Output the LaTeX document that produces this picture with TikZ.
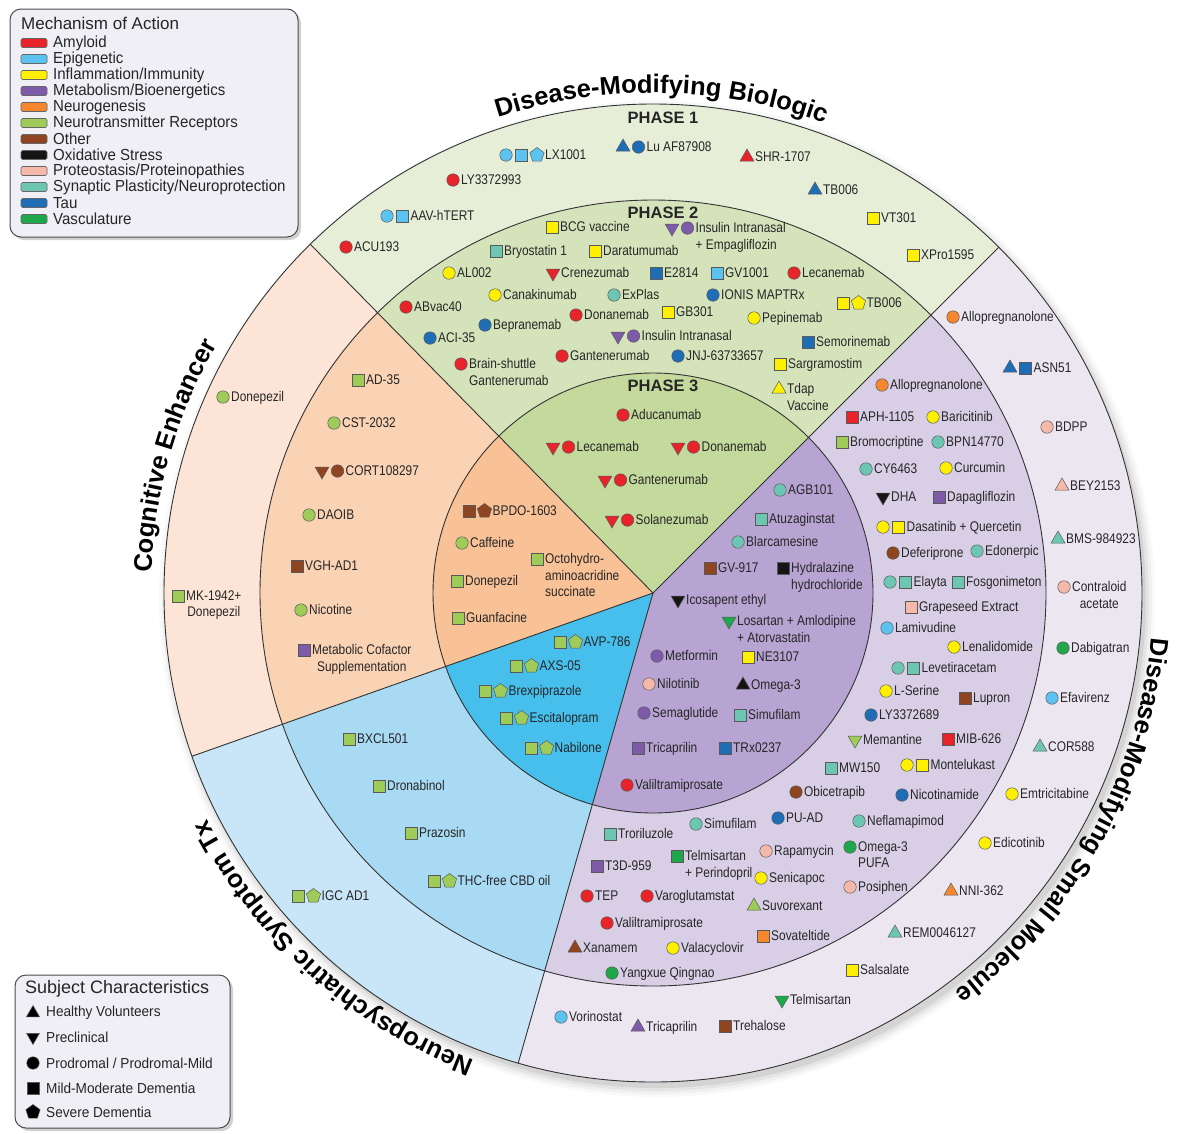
\documentclass[tikz,border=0pt]{standalone}
\usepackage{fontspec}
\setmainfont{Liberation Sans}
\newfontfamily\labfam[FakeStretch=0.85]{Liberation Sans}
\newfontfamily\legfam[FakeStretch=0.94]{Liberation Sans}
\usetikzlibrary{shapes.geometric,decorations.text}
% mechanism colours
\definecolor{cAmy}{HTML}{E8232A}
\definecolor{cEpi}{HTML}{5CC3F0}
\definecolor{cInf}{HTML}{FFF000}
\definecolor{cMet}{HTML}{7E5BA8}
\definecolor{cNeu}{HTML}{F5872F}
\definecolor{cNtr}{HTML}{9FCB58}
\definecolor{cOth}{HTML}{8E4520}
\definecolor{cOxi}{HTML}{151515}
\definecolor{cPro}{HTML}{F5B9AA}
\definecolor{cSyn}{HTML}{6DC6B2}
\definecolor{cTau}{HTML}{1F6DB5}
\definecolor{cVas}{HTML}{1EA84B}
% region colours
\definecolor{bioA}{HTML}{E7EED8}
\definecolor{bioB}{HTML}{D5E3BB}
\definecolor{bioC}{HTML}{C4D99C}
\definecolor{cogA}{HTML}{FCE5D6}
\definecolor{cogB}{HTML}{FAD2B4}
\definecolor{cogC}{HTML}{F8C196}
\definecolor{neuA}{HTML}{C8E6F7}
\definecolor{neuB}{HTML}{A9DAF4}
\definecolor{neuC}{HTML}{46BFEC}
\definecolor{smA}{HTML}{ECE6F1}
\definecolor{smB}{HTML}{D8CEE5}
\definecolor{smC}{HTML}{B7A4D2}
\definecolor{lineC}{HTML}{333333}
\definecolor{legbg}{HTML}{EFEFF5}

\newcommand\labfont{\labfam\fontsize{14}{16.5}\selectfont}
\newcommand\secfont{\bfseries\fontsize{25.5}{25.5}\selectfont}
\def\cx{653}
\def\cy{-593}

\newcounter{drugno}
\newcommand\drug[5][left]{%
  \stepcounter{drugno}%
  \edef\dname{d\arabic{drugno}}%
  \foreach \mks/\mkc [count=\mki from 0] in {#4}{%
    \node[mk\mks, fill=\mkc] (\dname m\mki) at ({#2+\mki*15.5},{-#3}) {};%
    \xdef\lastidx{\mki}%
  }%
  \node[lab, align=#1, anchor=north west] (\dname) at ({#2+\lastidx*15.5+8},{-#3+5.5}) {#5};%
}
\newcommand\sectorfill[4]{\fill[#4] (\cx,\cy) -- ++(#1:#3) arc[start angle=#1, end angle=#2, radius=#3] -- cycle;}
\newcommand\legitem[4]{%
  \node[swatch, fill=#2] (sw#4) at (34,-#1) {};
  \node[legtxt, anchor=west] (lt#4) at (53,-#1) {#3};}

\begin{document}
\begin{tikzpicture}[x=1pt,y=1pt,
  mkbase/.style={draw=black!65, line width=0.5pt, inner sep=0pt},
  mkcirc/.style={mkbase, circle, minimum size=12.5pt},
  mksq/.style={mkbase, rectangle, minimum size=12pt},
  mktup/.style={mkbase, regular polygon, regular polygon sides=3, minimum size=16pt},
  mktdn/.style={mkbase, regular polygon, regular polygon sides=3, shape border rotate=180, minimum size=16pt},
  mkpent/.style={mkbase, regular polygon, regular polygon sides=5, minimum size=15pt},
  lab/.style={font=\labfont, inner sep=0pt, text=black!85},
  phase/.style={font=\bfseries\fontsize{16.5}{16.5}\selectfont, inner sep=0pt, text=black!85},
  swatch/.style={draw=black!60, line width=0.6pt, rounded corners=1.5pt, minimum width=26pt, minimum height=9pt, inner sep=0pt},
  legtxt/.style={font=\legfam\fontsize{16}{16}\selectfont, inner sep=0pt, text=black!85},
  legbox/.style={fill=legbg, draw=black!70, line width=1pt, rounded corners=11pt},
  ringline/.style={lineC, line width=0.9pt}
]
\useasboundingbox (0,0) rectangle (1188,-1133);
\coordinate (C) at (\cx,\cy);

% ---- shadow of the disc
\foreach \k/\o in {9/0.025,6/0.035,3/0.05,0/0.07}
  \fill[black, opacity=\o] (\cx+4,\cy-6) circle ({489+\k});

% ---- sector fills
\sectorfill{45}{134.5}{489}{bioA}
\sectorfill{134.5}{199.5}{489}{cogA}
\sectorfill{199.5}{254}{489}{neuA}
\sectorfill{254}{405}{489}{smA}
\sectorfill{45}{134.5}{393}{bioB}
\sectorfill{134.5}{199.5}{393}{cogB}
\sectorfill{199.5}{254}{393}{neuB}
\sectorfill{254}{405}{393}{smB}
\sectorfill{45}{134.5}{220}{bioC}
\sectorfill{134.5}{199.5}{220}{cogC}
\sectorfill{199.5}{254}{220}{neuC}
\sectorfill{254}{405}{220}{smC}

% ---- ring outlines and sector boundaries
\draw[ringline] (C) circle (489);
\draw[ringline] (C) circle (393);
\draw[ringline] (C) circle (220);
\foreach \a in {45,134.5,199.5,254} \draw[ringline] (C) -- ++(\a:489);

% ---- sector titles
\path[decorate, decoration={text along path, text align=center,
  text={|\secfont|Disease-Modifying Biologic}}]
  [shift={(\cx,\cy)}] (120:500) arc[start angle=120, end angle=58, radius=500];
\path[decorate, decoration={text along path, text align=center,
  text={|\secfont|Cognitive Enhancer}}]
  [shift={(\cx,\cy)}] (195:502) arc[start angle=195, end angle=133, radius=502];
\path[decorate, decoration={text along path, text align=center,
  text={|\secfont|Neuropsychiatric Symptom Tx}}]
  [shift={(\cx,\cy)}] (259:500) arc[start angle=259, end angle=197, radius=500];
\path[decorate, decoration={text along path, text align=center,
  text={|\secfont|Disease-Modifying Small Molecule}}]
  [shift={(\cx,\cy)}] (3:500) arc[start angle=3, end angle=-61, radius=500];

% ---- phase headings
\node[phase] (ph1) at (663,-118) {PHASE 1};
\node[phase] (ph2) at (663,-213) {PHASE 2};
\node[phase] (ph3) at (663,-386) {PHASE 3};

% ---- Biologic, phase 1
\drug{506}{155}{circ/cEpi,sq/cEpi,pent/cEpi}{LX1001}
\drug{623}{147}{tup/cTau,circ/cTau}{Lu AF87908}
\drug{747}{157}{tup/cAmy}{SHR-1707}
\drug{453}{180}{circ/cAmy}{LY3372993}
\drug{815}{190}{tup/cTau}{TB006}
\drug{387}{216}{circ/cEpi,sq/cEpi}{AAV-hTERT}
\drug{873}{218}{sq/cInf}{VT301}
\drug{346}{247}{circ/cAmy}{ACU193}
\drug{913}{255}{sq/cInf}{XPro1595}
% ---- Biologic, phase 2
\drug{552}{227}{sq/cInf}{BCG vaccine}
\drug{672}{228}{tdn/cMet,circ/cMet}{Insulin Intranasal\\+ Empagliflozin}
\drug{496}{251}{sq/cSyn}{Bryostatin 1}
\drug{595}{251}{sq/cInf}{Daratumumab}
\drug{449}{273}{circ/cInf}{AL002}
\drug{553}{273}{tdn/cAmy}{Crenezumab}
\drug{656}{273}{sq/cTau}{E2814}
\drug{717}{273}{sq/cEpi}{GV1001}
\drug{794}{273}{circ/cAmy}{Lecanemab}
\drug{495}{295}{circ/cInf}{Canakinumab}
\drug{614}{295}{circ/cSyn}{ExPlas}
\drug{713}{295}{circ/cTau}{IONIS MAPTRx}
\drug{843}{303}{sq/cInf,pent/cInf}{TB006}
\drug{406}{307}{circ/cAmy}{ABvac40}
\drug{576}{315}{circ/cAmy}{Donanemab}
\drug{668}{312}{sq/cInf}{GB301}
\drug{754}{318}{circ/cInf}{Pepinemab}
\drug{485}{325}{circ/cTau}{Bepranemab}
\drug{430}{338}{circ/cTau}{ACI-35}
\drug{618}{336}{tdn/cMet,circ/cMet}{Insulin Intranasal}
\drug{808}{342}{sq/cTau}{Semorinemab}
\drug{461}{364}{circ/cAmy}{Brain-shuttle\\Gantenerumab}
\drug{562}{356}{circ/cAmy}{Gantenerumab}
\drug{678}{356}{circ/cTau}{JNJ-63733657}
\drug{780}{364}{sq/cInf}{Sargramostim}
\drug{779}{389}{tup/cInf}{Tdap\\Vaccine}
% ---- Biologic, phase 3
\drug{623}{415}{circ/cAmy}{Aducanumab}
\drug{553}{447}{tdn/cAmy,circ/cAmy}{Lecanemab}
\drug{678}{447}{tdn/cAmy,circ/cAmy}{Donanemab}
\drug{605}{480}{tdn/cAmy,circ/cAmy}{Gantenerumab}
\drug{612}{520}{tdn/cAmy,circ/cAmy}{Solanezumab}
% ---- Cognitive enhancer
\drug{469}{511}{sq/cOth,pent/cOth}{BPDO-1603}
\drug{462}{543}{circ/cNtr}{Caffeine}
\drug{537}{559}{sq/cNtr}{Octohydro-\\aminoacridine\\succinate}
\drug{457}{581}{sq/cNtr}{Donepezil}
\drug{458}{618}{sq/cNtr}{Guanfacine}
\drug{358}{380}{sq/cNtr}{AD-35}
\drug{334}{423}{circ/cNtr}{CST-2032}
\drug{322}{471}{tdn/cOth,circ/cOth}{CORT108297}
\drug{309}{515}{circ/cNtr}{DAOIB}
\drug{297}{566}{sq/cOth}{VGH-AD1}
\drug{301}{610}{circ/cNtr}{Nicotine}
\drug[center]{304}{650}{sq/cMet}{Metabolic Cofactor\\Supplementation}
\drug{223}{397}{circ/cNtr}{Donepezil}
\drug[center]{178}{596}{sq/cNtr}{MK-1942+\\Donepezil}
% ---- Neuropsychiatric symptom
\drug{560}{642}{sq/cNtr,pent/cNtr}{AVP-786}
\drug{516}{666}{sq/cNtr,pent/cNtr}{AXS-05}
\drug{485}{691}{sq/cNtr,pent/cNtr}{Brexpiprazole}
\drug{506}{718}{sq/cNtr,pent/cNtr}{Escitalopram}
\drug{531}{748}{sq/cNtr,pent/cNtr}{Nabilone}
\drug{349}{739}{sq/cNtr}{BXCL501}
\drug{379}{786}{sq/cNtr}{Dronabinol}
\drug{411}{833}{sq/cNtr}{Prazosin}
\drug{434}{881}{sq/cNtr,pent/cNtr}{THC-free CBD oil}
\drug{298}{896}{sq/cNtr,pent/cNtr}{IGC AD1}
% ---- Small molecule, phase 3
\drug{780}{490}{circ/cSyn}{AGB101}
\drug{761}{519}{sq/cSyn}{Atuzaginstat}
\drug{738}{542}{circ/cSyn}{Blarcamesine}
\drug{710}{568}{sq/cOth}{GV-917}
\drug{783}{568}{sq/cOxi}{Hydralazine\\hydrochloride}
\drug{678}{600}{tdn/cOxi}{Icosapent ethyl}
\drug{729}{621}{tdn/cVas}{Losartan + Amlodipine\\+ Atorvastatin}
\drug{657}{656}{circ/cMet}{Metformin}
\drug{748}{657}{sq/cInf}{NE3107}
\drug{649}{684}{circ/cPro}{Nilotinib}
\drug{743}{685}{tup/cOxi}{Omega-3}
\drug{644}{713}{circ/cMet}{Semaglutide}
\drug{740}{715}{sq/cSyn}{Simufilam}
\drug{638}{748}{sq/cMet}{Tricaprilin}
\drug{725}{748}{sq/cTau}{TRx0237}
\drug{627}{785}{circ/cAmy}{Valiltramiprosate}
% ---- Small molecule, phase 2
\drug{882}{385}{circ/cNeu}{Allopregnanolone}
\drug{852}{417}{sq/cAmy}{APH-1105}
\drug{933}{417}{circ/cInf}{Baricitinib}
\drug{842}{442}{sq/cNtr}{Bromocriptine}
\drug{938}{442}{circ/cSyn}{BPN14770}
\drug{866}{469}{circ/cSyn}{CY6463}
\drug{946}{468}{circ/cInf}{Curcumin}
\drug{883}{497}{tdn/cOxi}{DHA}
\drug{939}{497}{sq/cMet}{Dapagliflozin}
\drug{883}{527}{circ/cInf,sq/cInf}{Dasatinib + Quercetin}
\drug{893}{553}{circ/cOth}{Deferiprone}
\drug{977}{551}{circ/cSyn}{Edonerpic}
\drug{890}{582}{circ/cSyn,sq/cSyn}{Elayta}
\drug{958}{582}{sq/cSyn}{Fosgonimeton}
\drug{911}{607}{sq/cPro}{Grapeseed Extract}
\drug{887}{628}{circ/cEpi}{Lamivudine}
\drug{954}{647}{circ/cInf}{Lenalidomide}
\drug{898}{668}{circ/cSyn,sq/cSyn}{Levetiracetam}
\drug{886}{691}{circ/cInf}{L-Serine}
\drug{965}{698}{sq/cOth}{Lupron}
\drug{871}{715}{circ/cTau}{LY3372689}
\drug{855}{740}{tdn/cNtr}{Memantine}
\drug{948}{739}{sq/cAmy}{MIB-626}
\drug{831}{768}{sq/cSyn}{MW150}
\drug{907}{765}{circ/cInf,sq/cInf}{Montelukast}
\drug{796}{792}{circ/cOth}{Obicetrapib}
\drug{902}{795}{circ/cTau}{Nicotinamide}
\drug{696}{824}{circ/cSyn}{Simufilam}
\drug{778}{818}{circ/cTau}{PU-AD}
\drug{859}{821}{circ/cSyn}{Neflamapimod}
\drug{610}{834}{sq/cSyn}{Troriluzole}
\drug{677}{856}{sq/cVas}{Telmisartan\\+ Perindopril}
\drug{766}{851}{circ/cPro}{Rapamycin}
\drug{850}{847}{circ/cVas}{Omega-3\\PUFA}
\drug{597}{866}{sq/cMet}{T3D-959}
\drug{761}{878}{circ/cInf}{Senicapoc}
\drug{850}{887}{circ/cPro}{Posiphen}
\drug{587}{896}{circ/cAmy}{TEP}
\drug{647}{896}{circ/cAmy}{Varoglutamstat}
\drug{754}{906}{tup/cNtr}{Suvorexant}
\drug{607}{923}{circ/cAmy}{Valiltramiprosate}
\drug{763}{936}{sq/cNeu}{Sovateltide}
\drug{575}{948}{tup/cOth}{Xanamem}
\drug{673}{948}{circ/cInf}{Valacyclovir}
\drug{612}{973}{circ/cVas}{Yangxue Qingnao}
% ---- Small molecule, phase 1
\drug{953}{317}{circ/cNeu}{Allopregnanolone}
\drug{1010}{368}{tup/cTau,sq/cTau}{ASN51}
\drug{1047}{427}{circ/cPro}{BDPP}
\drug{1062}{486}{tup/cPro}{BEY2153}
\drug{1058}{539}{tup/cSyn}{BMS-984923}
\drug[center]{1064}{587}{circ/cPro}{Contraloid\\acetate}
\drug{1063}{648}{circ/cVas}{Dabigatran}
\drug{1052}{698}{circ/cEpi}{Efavirenz}
\drug{1040}{747}{tup/cSyn}{COR588}
\drug{1012}{794}{circ/cInf}{Emtricitabine}
\drug{985}{843}{circ/cInf}{Edicotinib}
\drug{951}{891}{tup/cNeu}{NNI-362}
\drug{895}{933}{tup/cSyn}{REM0046127}
\drug{852}{970}{sq/cInf}{Salsalate}
\drug{782}{1000}{tdn/cVas}{Telmisartan}
\drug{561}{1017}{circ/cEpi}{Vorinostat}
\drug{638}{1027}{tup/cMet}{Tricaprilin}
\drug{725}{1026}{sq/cOth}{Trehalose}

% ---- legend: mechanism of action
\fill[black, opacity=0.18, rounded corners=11pt] (13,-12) rectangle (301,-240);
\draw[legbox] (10,-9) rectangle (298,-237);
\node[anchor=west, inner sep=0pt, font=\fontsize{17}{17}\selectfont, text=black!85] (mtitle) at (21,-23) {Mechanism of Action};
\legitem{43}{cAmy}{Amyloid}{1}
\legitem{59}{cEpi}{Epigenetic}{2}
\legitem{75}{cInf}{Inflammation/Immunity}{3}
\legitem{91}{cMet}{Metabolism/Bioenergetics}{4}
\legitem{107}{cNeu}{Neurogenesis}{5}
\legitem{123}{cNtr}{Neurotransmitter Receptors}{6}
\legitem{139}{cOth}{Other}{7}
\legitem{155}{cOxi}{Oxidative Stress}{8}
\legitem{171}{cPro}{Proteostasis/Proteinopathies}{9}
\legitem{187}{cSyn}{Synaptic Plasticity/Neuroprotection}{10}
\legitem{203}{cTau}{Tau}{11}
\legitem{219}{cVas}{Vasculature}{12}

% ---- legend: subject characteristics
\fill[black, opacity=0.18, rounded corners=11pt] (18,-978) rectangle (233,-1131);
\draw[legbox] (15,-975) rectangle (230,-1128);
\node[anchor=west, inner sep=0pt, font=\fontsize{18}{18}\selectfont, text=black!85] (stitle) at (25,-989) {Subject Characteristics};
\node[mktup, fill=black, minimum size=15pt] (s1) at (33,-1013) {};
\node[legtxt, anchor=west, font=\legfam\fontsize{14.5}{14.5}\selectfont] (st1) at (46,-1013) {Healthy Volunteers};
\node[mktdn, fill=black, minimum size=15pt] (s2) at (33,-1037) {};
\node[legtxt, anchor=west, font=\legfam\fontsize{14.5}{14.5}\selectfont] (st2) at (46,-1037) {Preclinical};
\node[mkcirc, fill=black] (s3) at (33,-1063) {};
\node[legtxt, anchor=west, font=\legfam\fontsize{14.5}{14.5}\selectfont] (st3) at (46,-1063) {Prodromal / Prodromal-Mild};
\node[mksq, fill=black] (s4) at (33,-1088) {};
\node[legtxt, anchor=west, font=\legfam\fontsize{14.5}{14.5}\selectfont] (st4) at (46,-1088) {Mild-Moderate Dementia};
\node[mkpent, fill=black] (s5) at (33,-1112) {};
\node[legtxt, anchor=west, font=\legfam\fontsize{14.5}{14.5}\selectfont] (st5) at (46,-1112) {Severe Dementia};
\end{tikzpicture}
\end{document}
